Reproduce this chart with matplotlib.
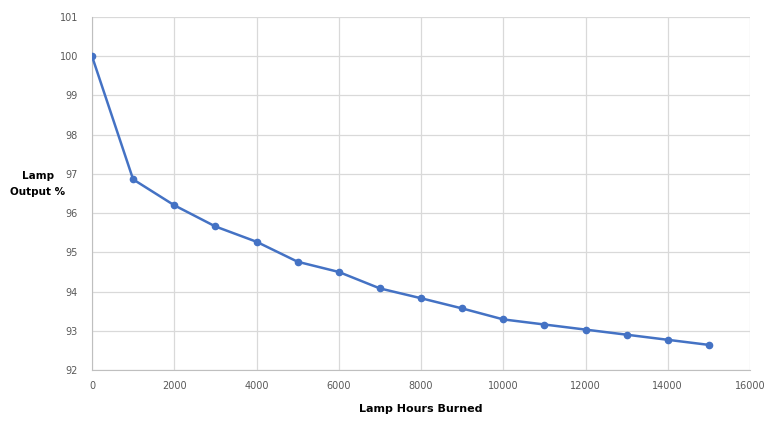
import numpy as np
import matplotlib
matplotlib.use('Agg')
import matplotlib.pyplot as plt

# values
hours = [0, 1000, 2000, 3000, 4000, 5000, 6000, 7000, 8000,
         9000, 10000, 11000, 12000, 13000, 14000, 15000]
output_pct = [100.0, 96.86, 96.2, 95.66, 95.27, 94.76, 94.5, 94.08, 93.83,
              93.57, 93.29, 93.16, 93.03, 92.9, 92.77, 92.64]

x_ticks = np.arange(0, 16001, 2000)
y_ticks = np.arange(92, 102, 1)

fig = plt.figure(figsize=(7.69, 4.21), dpi=100)
ax = fig.add_axes([92 / 769, 51 / 421, 658 / 769, 353 / 421])

ax.plot(hours, output_pct, color='#4472C4', linewidth=1.8,
        marker='o', markersize=4.5, zorder=3)

ax.set_xlim(0, 16000)
ax.set_ylim(92, 101)
ax.set_xticks(x_ticks)
ax.set_yticks(y_ticks)
ax.grid(True, color='#D9D9D9', linewidth=0.9)
ax.set_axisbelow(True)

for side in ['top', 'right']:
    ax.spines[side].set_visible(False)
ax.spines['left'].set_color('#BFBFBF')
ax.spines['bottom'].set_color('#BFBFBF')

ax.tick_params(axis='both', length=0, labelsize=7, labelcolor='#595959')
ax.tick_params(axis='y', pad=10)
ax.tick_params(axis='x', pad=8)

ax.set_xlabel('Lamp Hours Burned', fontsize=8, fontweight='bold', labelpad=9)
ax.set_ylabel('Lamp\nOutput %', fontsize=7.5, fontweight='bold',
              rotation=0, ha='center', va='center', linespacing=1.8)
ax.yaxis.set_label_coords(-0.082, 0.527)

fig.savefig('out.png', dpi=100)
